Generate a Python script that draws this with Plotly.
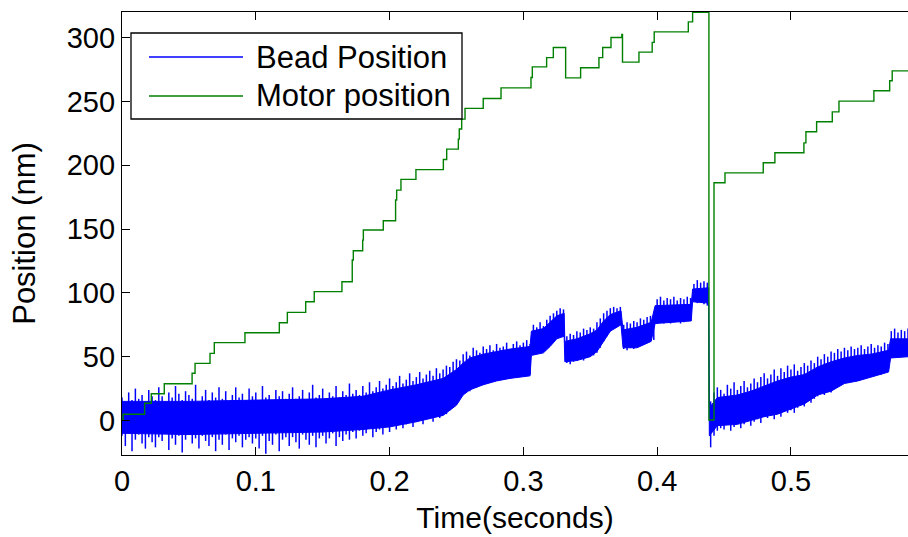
import plotly.graph_objects as go

# Motor position: stepwise trace, each value holds from its time until the next one
motor_t = [0.0, 0.0008, 0.0169, 0.0219, 0.0316, 0.0524, 0.0546, 0.0658, 0.0690,
           0.0919, 0.1176, 0.1236, 0.1373, 0.1437, 0.1644, 0.1721, 0.1729, 0.1799,
           0.1804, 0.1953, 0.2045, 0.2053, 0.2085, 0.2197, 0.2402, 0.2427, 0.2514,
           0.2521, 0.2539, 0.2564, 0.2700, 0.2833, 0.3057, 0.3067, 0.3174, 0.3224,
           0.3316, 0.3428, 0.3565, 0.3593, 0.3655, 0.3736, 0.3741, 0.3864, 0.3963,
           0.3978, 0.4233, 0.4265, 0.4387, 0.4425, 0.4507, 0.4793, 0.4880, 0.5097,
           0.5112, 0.5192, 0.5309, 0.5359, 0.5620, 0.5738, 0.5757, 0.5875]
motor_nm = [0.4, 4.9, 13.5, 21.0, 28.8, 37.0, 44.8, 52.6, 61.0,
            68.8, 76.6, 84.7, 93.0, 101.0, 108.7, 125.7, 133.0, 141.3,
            149.2, 156.5, 172.7, 180.5, 188.9, 196.5, 204.5, 212.6, 220.4,
            228.3, 236.1, 244.5, 252.3, 260.6, 268.7, 277.0, 284.3, 292.2,
            268.4, 276.3, 284.3, 292.2, 300.0, 302.4, 280.7, 288.6, 296.2,
            304.4, 312.3, 319.8, 0.4, 186.2, 194.0, 201.9, 209.7, 217.5,
            226.2, 234.0, 241.8, 250.2, 258.3, 266.1, 273.9, 273.9]

# Bead position, dense part of the noisy trace (upper / lower edge)
core_t = [0.000, 0.050, 0.100, 0.150, 0.180, 0.200, 0.220, 0.240, 0.250, 0.255,
          0.260, 0.270, 0.280, 0.290, 0.305, 0.306, 0.315, 0.320, 0.325, 0.3305,
          0.331, 0.340, 0.350, 0.355, 0.360, 0.365, 0.373, 0.3745, 0.385, 0.3955,
          0.3985, 0.4255, 0.4265, 0.4385, 0.4390, 0.445, 0.460, 0.470, 0.480, 0.490,
          0.500, 0.510, 0.520, 0.530, 0.540, 0.550, 0.560, 0.573, 0.5745, 0.588]
core_hi = [15, 15, 16, 17, 19, 24, 28, 33, 40, 45,
           49, 52, 54, 56, 58, 70, 72, 77, 82, 84,
           62, 64, 68, 71, 78, 83, 86, 71, 73, 77,
           90, 91, 103, 104, 10, 18, 20, 23, 27, 31,
           34, 36, 42, 46, 49, 51, 52, 55, 64, 64]
core_lo = [-10, -11, -10, -9, -7, -5, -1, 4, 12, 20,
           24, 28, 31, 33, 35, 51, 53, 58, 64, 66,
           46, 47, 50, 54, 62, 70, 75, 57, 57, 62,
           76, 78, 93, 92, -12, -4, -3, 0, 3, 5,
           9, 13, 20, 23, 29, 31, 34, 38, 49, 50]

# Bead position, low / high excursion within each 2.5 ms window
bead_t = [0.0000, 0.0025, 0.0050, 0.0075, 0.0100, 0.0125, 0.0150, 0.0175, 0.0200, 0.0225,
          0.0250, 0.0275, 0.0300, 0.0325, 0.0350, 0.0375, 0.0400, 0.0425, 0.0450, 0.0475,
          0.0500, 0.0525, 0.0550, 0.0575, 0.0600, 0.0625, 0.0650, 0.0675, 0.0700, 0.0725,
          0.0750, 0.0775, 0.0800, 0.0825, 0.0850, 0.0875, 0.0900, 0.0925, 0.0950, 0.0975,
          0.1000, 0.1025, 0.1050, 0.1075, 0.1100, 0.1125, 0.1150, 0.1175, 0.1200, 0.1225,
          0.1250, 0.1275, 0.1300, 0.1325, 0.1350, 0.1375, 0.1400, 0.1425, 0.1450, 0.1475,
          0.1500, 0.1525, 0.1550, 0.1575, 0.1600, 0.1625, 0.1650, 0.1675, 0.1700, 0.1725,
          0.1750, 0.1775, 0.1800, 0.1825, 0.1850, 0.1875, 0.1900, 0.1925, 0.1950, 0.1975,
          0.2000, 0.2025, 0.2050, 0.2075, 0.2100, 0.2125, 0.2150, 0.2175, 0.2200, 0.2225,
          0.2250, 0.2275, 0.2300, 0.2325, 0.2350, 0.2375, 0.2400, 0.2425, 0.2450, 0.2475,
          0.2500, 0.2525, 0.2550, 0.2575, 0.2600, 0.2625, 0.2650, 0.2675, 0.2700, 0.2725,
          0.2750, 0.2775, 0.2800, 0.2825, 0.2850, 0.2875, 0.2900, 0.2925, 0.2950, 0.2975,
          0.3000, 0.3025, 0.3050, 0.3075, 0.3100, 0.3125, 0.3150, 0.3175, 0.3200, 0.3225,
          0.3250, 0.3275, 0.3300, 0.3325, 0.3350, 0.3375, 0.3400, 0.3425, 0.3450, 0.3475,
          0.3500, 0.3525, 0.3550, 0.3575, 0.3600, 0.3625, 0.3650, 0.3675, 0.3700, 0.3725,
          0.3750, 0.3775, 0.3800, 0.3825, 0.3850, 0.3875, 0.3900, 0.3925, 0.3950, 0.3975,
          0.4000, 0.4025, 0.4050, 0.4075, 0.4100, 0.4125, 0.4150, 0.4175, 0.4200, 0.4225,
          0.4250, 0.4275, 0.4300, 0.4325, 0.4350, 0.4375, 0.4400, 0.4425, 0.4450, 0.4475,
          0.4500, 0.4525, 0.4550, 0.4575, 0.4600, 0.4625, 0.4650, 0.4675, 0.4700, 0.4725,
          0.4750, 0.4775, 0.4800, 0.4825, 0.4850, 0.4875, 0.4900, 0.4925, 0.4950, 0.4975,
          0.5000, 0.5025, 0.5050, 0.5075, 0.5100, 0.5125, 0.5150, 0.5175, 0.5200, 0.5225,
          0.5250, 0.5275, 0.5300, 0.5325, 0.5350, 0.5375, 0.5400, 0.5425, 0.5450, 0.5475,
          0.5500, 0.5525, 0.5550, 0.5575, 0.5600, 0.5625, 0.5650, 0.5675, 0.5700, 0.5725,
          0.5750, 0.5775, 0.5800, 0.5825, 0.5850, 0.5875]
bead_hi = [18, 14, 22, 16, 25, 17, 20, 14, 24, 19,
           16, 26, 19, 15, 22, 18, 27, 21, 16, 23,
           20, 17, 28, 15, 19, 24, 16, 22, 18, 26,
           17, 23, 15, 20, 26, 18, 21, 16, 25, 19,
           22, 16, 27, 18, 20, 15, 24, 19, 23, 17,
           21, 26, 17, 19, 24, 16, 22, 28, 18, 20,
           25, 17, 22, 19, 27, 18, 23, 20, 29, 21,
           24, 20, 27, 22, 30, 23, 26, 31, 25, 28,
           33, 27, 30, 35, 29, 32, 37, 31, 34, 38,
           33, 36, 39, 35, 41, 37, 40, 43, 42, 46,
           48, 47, 52, 54, 51, 57, 55, 53, 58, 56,
           59, 55, 60, 57, 58, 61, 56, 60, 62, 59,
           61, 63, 60, 75, 73, 77, 74, 79, 82, 84,
           86, 88, 87, 66, 68, 67, 70, 69, 72, 71,
           73, 72, 77, 80, 84, 86, 88, 89, 88, 89,
           75, 77, 76, 78, 77, 80, 79, 81, 82, 80,
           95, 97, 94, 96, 95, 97, 94, 96, 95, 97,
           96, 107, 110, 108, 109, 108, 15, 22, 26, 24,
           21, 28, 25, 30, 24, 27, 31, 26, 29, 33,
           30, 34, 37, 33, 36, 40, 35, 41, 38, 43,
           40, 44, 39, 42, 45, 43, 47, 45, 50, 48,
           52, 50, 54, 53, 56, 54, 57, 55, 58, 56,
           57, 59, 56, 58, 60, 57, 59, 58, 61, 60,
           70, 72, 69, 71, 70, 72]
bead_lo = [-12, -20, -10, -24, -15, -11, -18, -22, -13, -17,
           -21, -13, -16, -10, -23, -14, -19, -12, -25, -15,
           -11, -18, -14, -22, -12, -16, -20, -13, -24, -15,
           -19, -11, -23, -14, -17, -12, -21, -15, -13, -18,
           -14, -22, -12, -26, -16, -19, -11, -24, -15, -13,
           -20, -13, -17, -22, -11, -15, -19, -12, -21, -14,
           -12, -18, -14, -10, -20, -13, -16, -11, -15, -9,
           -14, -8, -12, -10, -6, -13, -9, -7, -11, -5,
           -9, -4, -7, -2, -6, -3, 0, -5, -1, 2,
           -3, 1, 3, -1, 4, 2, 6, 5, 8, 11,
           13, 18, 22, 25, 23, 27, 26, 29, 28, 31,
           30, 33, 31, 34, 32, 35, 33, 36, 34, 37,
           35, 37, 36, 52, 53, 54, 55, 57, 59, 62,
           65, 66, 67, 45, 44, 46, 47, 48, 47, 49,
           50, 51, 53, 57, 62, 66, 70, 73, 74, 75,
           56, 55, 57, 56, 58, 59, 60, 61, 62, 63,
           76, 77, 76, 78, 76, 77, 78, 76, 77, 78,
           79, 93, 92, 93, 91, 90, -21, -12, -8, -6,
           -7, -3, -8, -5, -2, -6, -3, 0, -4, -1,
           1, -2, 3, 2, 4, 1, 5, 3, 7, 6,
           8, 6, 10, 12, 11, 15, 14, 17, 19, 21,
           20, 23, 22, 26, 27, 29, 31, 30, 32, 33,
           31, 34, 33, 35, 34, 36, 37, 36, 38, 39,
           49, 51, 50, 52, 50, 51]

x_ticks = [0, 0.1, 0.2, 0.3, 0.4, 0.5]
x_tick_text = ["0", "0.1", "0.2", "0.3", "0.4", "0.5"]
y_ticks = [0, 50, 100, 150, 200, 250, 300]

BLUE = "rgb(0,0,255)"
GREEN = "rgb(0,128,0)"
FONT = "Liberation Sans, Arial, Helvetica, sans-serif"

W, H = 908, 537
L, R, T, B = 122, 0, 12, 82

fig = go.Figure()

# dense body of the bead trace
fig.add_trace(go.Scatter(
    x=core_t + core_t[::-1],
    y=core_hi + core_lo[::-1],
    mode="lines", fill="toself", fillcolor=BLUE,
    line=dict(color=BLUE, width=1),
    showlegend=False, hoverinfo="skip",
))

# noise: one vertical stroke per window, from its low to its high excursion
spike_x, spike_y = [], []
for t, lo, hi in zip(bead_t, bead_lo, bead_hi):
    spike_x += [t, t, None]
    spike_y += [lo, hi, None]
fig.add_trace(go.Scatter(
    x=spike_x, y=spike_y, mode="lines", connectgaps=False,
    line=dict(color=BLUE, width=1.5), showlegend=False, hoverinfo="skip",
))

fig.add_trace(go.Scatter(
    x=motor_t, y=motor_nm, mode="lines", line_shape="hv",
    line=dict(color=GREEN, width=1.4), showlegend=False,
))

fig.update_layout(
    width=W, height=H,
    margin=dict(l=L, r=R, t=T, b=B),
    paper_bgcolor="white", plot_bgcolor="white",
    font=dict(family=FONT, size=29, color="black"),
    showlegend=False,
)

fig.update_xaxes(
    range=[0, 0.5875], tickvals=x_ticks, ticktext=x_tick_text,
    showgrid=False, zeroline=False,
    showline=True, linecolor="black", linewidth=1.3, mirror="ticks",
    ticks="inside", ticklen=8, tickwidth=1.3, tickcolor="black",
    title=dict(text="Time(seconds)", standoff=11, font=dict(size=30)),
)
fig.update_yaxes(
    range=[-27, 320], tickvals=y_ticks,
    showgrid=False, zeroline=False,
    showline=True, linecolor="black", linewidth=1.3, mirror=False,
    ticks="inside", ticklen=8, tickwidth=1.3, tickcolor="black",
    title=dict(text="Position (nm)", standoff=21, font=dict(size=31)),
)

# legend drawn in pixel-aligned paper coordinates
pw, ph = W - L - R, H - T - B
def px(xp):
    return (xp - L) / pw
def py(yp):
    return (H - B - yp) / ph

fig.add_shape(type="rect", xref="paper", yref="paper",
              x0=px(131), x1=px(462), y0=py(119), y1=py(33),
              line=dict(color="black", width=1.3), fillcolor="white", layer="above")
for label, color, yrow in [("Bead Position", BLUE, 57), ("Motor position", GREEN, 96)]:
    fig.add_shape(type="line", xref="paper", yref="paper",
                  x0=px(149), x1=px(243), y0=py(yrow), y1=py(yrow),
                  line=dict(color=color, width=1.3), layer="above")
    fig.add_annotation(x=px(254), y=py(yrow), xref="paper", yref="paper",
                       text=label, showarrow=False, xanchor="left", yanchor="middle",
                       font=dict(family=FONT, size=31, color="black"))

fig.write_html("out.html")
